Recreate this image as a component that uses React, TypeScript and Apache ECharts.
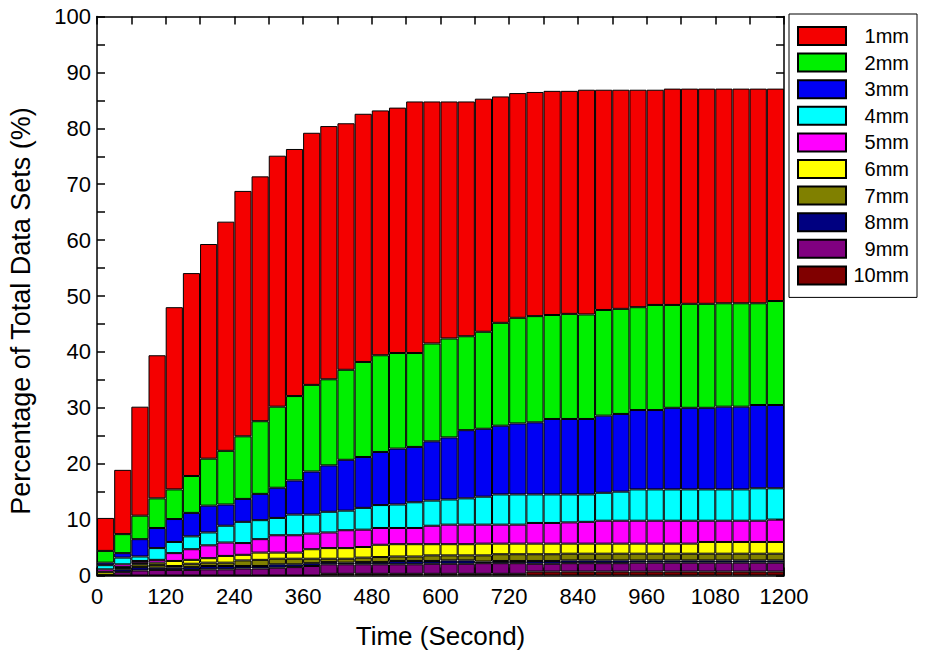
import React, { useEffect, useRef } from "react";
import * as echarts from "echarts";

// bin centres (seconds)
const times = [15, 45, 75, 105, 135, 165, 195, 225, 255, 285, 315, 345, 375, 405, 435, 465, 495, 525, 555, 585,
  615, 645, 675, 705, 735, 765, 795, 825, 855, 885, 915, 945, 975, 1005, 1035, 1065, 1095, 1125, 1155, 1185];

// cumulative top of each layer (1mm top = total)
const top1mm = [10.3, 18.9, 30.2, 39.4, 48.0, 54.1, 59.3, 63.3, 68.8, 71.4, 75.1, 76.3, 79.2, 80.4, 80.9, 82.6, 83.2, 83.7, 84.8, 84.8,
  84.8, 84.8, 85.3, 85.7, 86.3, 86.5, 86.7, 86.7, 86.9, 86.9, 86.9, 86.9, 86.9, 87.1, 87.1, 87.1, 87.1, 87.1, 87.1, 87.1];
const top2mm = [4.4, 7.4, 10.7, 13.8, 15.4, 17.8, 20.9, 22.3, 24.9, 27.6, 30.2, 32.1, 34.1, 35.1, 36.8, 38.2, 39.4, 39.8, 39.8, 41.5,
  42.4, 42.8, 43.6, 45.2, 46.1, 46.4, 46.6, 46.8, 46.7, 47.5, 47.7, 48.0, 48.4, 48.4, 48.6, 48.6, 48.7, 48.7, 48.7, 49.1];
const top3mm = [2.3, 4.0, 6.5, 8.5, 10.1, 11.2, 12.5, 12.7, 13.7, 14.6, 15.7, 17.0, 18.6, 19.7, 20.7, 21.2, 22.1, 22.7, 23.0, 24.0,
  24.7, 26.0, 26.25, 26.8, 27.2, 27.4, 28.0, 28.0, 28.0, 28.6, 28.9, 29.6, 29.6, 30.0, 30.0, 30.0, 30.2, 30.2, 30.5, 30.5];
const top4mm = [1.85, 3.2, 3.4, 4.9, 6.0, 7.0, 7.7, 8.9, 9.6, 9.9, 10.3, 10.9, 10.9, 11.4, 11.6, 12.1, 12.6, 12.7, 13.1, 13.4,
  13.6, 13.8, 14.1, 14.5, 14.5, 14.5, 14.5, 14.5, 14.5, 14.8, 15.0, 15.4, 15.4, 15.4, 15.4, 15.4, 15.4, 15.4, 15.6, 15.6];
const top5mm = [1.1, 2.0, 2.6, 2.8, 4.0, 4.7, 5.4, 5.9, 5.8, 6.5, 7.2, 7.2, 7.5, 7.7, 8.1, 8.2, 8.5, 8.5, 8.5, 8.9,
  9.1, 9.1, 9.1, 9.1, 9.1, 9.4, 9.4, 9.5, 9.6, 9.8, 9.8, 9.8, 9.8, 9.8, 9.8, 9.8, 9.8, 9.8, 9.8, 10.0];
const top6mm = [0.65, 1.5, 2.2, 2.3, 2.6, 2.8, 3.1, 3.5, 3.7, 4.1, 4.1, 4.1, 4.7, 4.9, 4.9, 5.1, 5.5, 5.6, 5.6, 5.6,
  5.6, 5.6, 5.7, 5.7, 5.7, 5.7, 5.7, 5.7, 5.7, 5.7, 5.7, 5.7, 5.7, 5.7, 5.7, 6.0, 6.0, 6.0, 6.0, 6.0];
const top7mm = [0.15, 1.3, 2.0, 1.9, 1.7, 2.1, 2.3, 2.3, 2.7, 2.8, 3.0, 3.0, 3.0, 3.0, 3.0, 3.2, 3.3, 3.4, 3.4, 3.6,
  3.6, 3.6, 3.6, 3.8, 3.8, 3.8, 3.8, 3.9, 3.9, 3.9, 3.9, 3.9, 3.9, 3.9, 3.9, 3.9, 3.9, 3.9, 3.9, 3.9];
const top8mm = [0.1, 1.1, 1.5, 1.4, 1.4, 1.5, 1.7, 1.7, 1.7, 1.7, 2.0, 2.0, 2.2, 2.4, 2.3, 2.4, 2.4, 2.6, 2.6, 2.6,
  2.7, 2.7, 2.5, 2.6, 2.6, 2.6, 2.6, 2.7, 2.7, 2.7, 2.7, 2.7, 2.7, 2.7, 2.7, 2.7, 2.7, 2.7, 2.7, 2.7];
const top9mm = [0.05, 0.6, 0.9, 1.0, 1.0, 1.0, 1.1, 1.1, 1.25, 1.25, 1.4, 1.5, 1.7, 2.0, 2.0, 2.0, 2.0, 2.0, 2.0, 2.1,
  2.1, 2.1, 2.2, 2.2, 2.2, 2.1, 2.1, 2.2, 2.2, 2.2, 2.2, 2.3, 2.3, 2.3, 2.3, 2.3, 2.3, 2.3, 2.3, 2.3];
const top10mm = [0, 0, 0, 0, 0, 0, 0, 0, 0, 0, 0, 0, 0, 0.3, 0.3, 0.3, 0.3, 0.3, 0.3, 0.3,
  0.3, 0.3, 0.3, 0.3, 0.3, 0.7, 0.7, 0.7, 0.7, 0.7, 0.7, 0.7, 0.7, 0.7, 0.7, 0.7, 0.7, 0.7, 0.7, 0.7];

const names = ["1mm", "2mm", "3mm", "4mm", "5mm", "6mm", "7mm", "8mm", "9mm", "10mm"];
const colors = ["#f40000", "#00f000", "#0000f4", "#00ffff", "#ff00ff", "#ffff00", "#808000", "#000080", "#800080", "#800000"];
const tops = [top1mm, top2mm, top3mm, top4mm, top5mm, top6mm, top7mm, top8mm, top9mm, top10mm];

const FONT = "'Liberation Sans', Arial, sans-serif";

export default function App() {
  const ref = useRef<HTMLDivElement>(null);
  useEffect(() => {
    if (!ref.current) return;
    const chart = echarts.init(ref.current, undefined, { renderer: "svg" });
    const axisCommon = (show: boolean) => ({
      axisLine: { show: true, onZero: false, lineStyle: { color: "#000", width: 1.5 } },
      axisTick: { show: true, inside: true, length: 8, lineStyle: { color: "#000", width: 1.5 } },
      minorTick: { show: true, splitNumber: 2, length: 8, lineStyle: { color: "#000", width: 1.5 } },
      splitLine: { show: false },
      axisLabel: { show, color: "#000", fontSize: 22, fontFamily: FONT },
    });
    // series from bottom (10mm) to top (1mm)
    const series = [];
    for (let k = names.length - 1; k >= 0; k--) {
      const upper = tops[k];
      const lower = k + 1 < tops.length ? tops[k + 1] : null;
      series.push({
        name: names[k],
        type: "bar",
        stack: "total",
        barCategoryGap: "0%",
        xAxisIndex: 0,
        yAxisIndex: 0,
        itemStyle: { color: colors[k], borderColor: "#000", borderWidth: 1 },
        emphasis: { disabled: true },
        data: upper.map((u, i) => Math.round((u - (lower ? lower[i] : 0)) * 100) / 100),
      });
    }
    chart.setOption({
      animation: false,
      backgroundColor: "#fff",
      textStyle: { fontFamily: FONT },
      grid: { left: 97, top: 16.5, width: 687, height: 559, containLabel: false },
      legend: {
        orient: "vertical",
        left: 789,
        top: 14,
        data: names,
        selectedMode: false,
        icon: "rect",
        itemWidth: 48,
        itemHeight: 18,
        itemGap: 6.6,
        padding: [12, 8, 12, 8],
        borderColor: "#000",
        borderWidth: 1,
        formatter: (n: string) => `{a|${n}}`,
        textStyle: {
          color: "#000",
          fontSize: 20,
          fontFamily: FONT,
          rich: { a: { width: 58, align: "right", fontSize: 20, lineHeight: 18, fontFamily: FONT, color: "#000" } },
        },
      },
      graphic: [
        {
          type: "text",
          x: 21,
          y: 311,
          rotation: Math.PI / 2,
          style: {
            text: "Percentage of Total Data Sets (%)",
            fontSize: 27,
            fontFamily: FONT,
            fill: "#000",
            align: "center",
            verticalAlign: "middle",
          },
        },
      ],
      xAxis: [
        {
          type: "category", position: "bottom", data: times.map(String), boundaryGap: true, show: false,
        },
        {
          type: "value", position: "bottom", min: 0, max: 1200, interval: 120,
          ...axisCommon(true),
          axisLabel: { show: true, color: "#000", fontSize: 22, fontFamily: FONT, margin: 10, formatter: (v: number) => String(v) },
          name: "Time (Second)", nameLocation: "middle", nameGap: 47,
          nameTextStyle: { fontSize: 26, color: "#000", fontFamily: FONT },
        },
        { type: "value", position: "top", min: 0, max: 1200, interval: 120, ...axisCommon(false) },
      ],
      yAxis: [
        {
          type: "value", position: "left", min: 0, max: 100, interval: 10,
          ...axisCommon(true),
          axisLabel: { show: true, color: "#000", fontSize: 22, fontFamily: FONT, margin: 6 },
        },
        { type: "value", position: "right", min: 0, max: 100, interval: 10, ...axisCommon(false) },
      ],
      series,
    });
    return () => chart.dispose();
  }, []);
  return <div ref={ref} style={{ position: "fixed", left: 0, top: 0, width: 925, height: 658, background: "#fff" }} />;
}
